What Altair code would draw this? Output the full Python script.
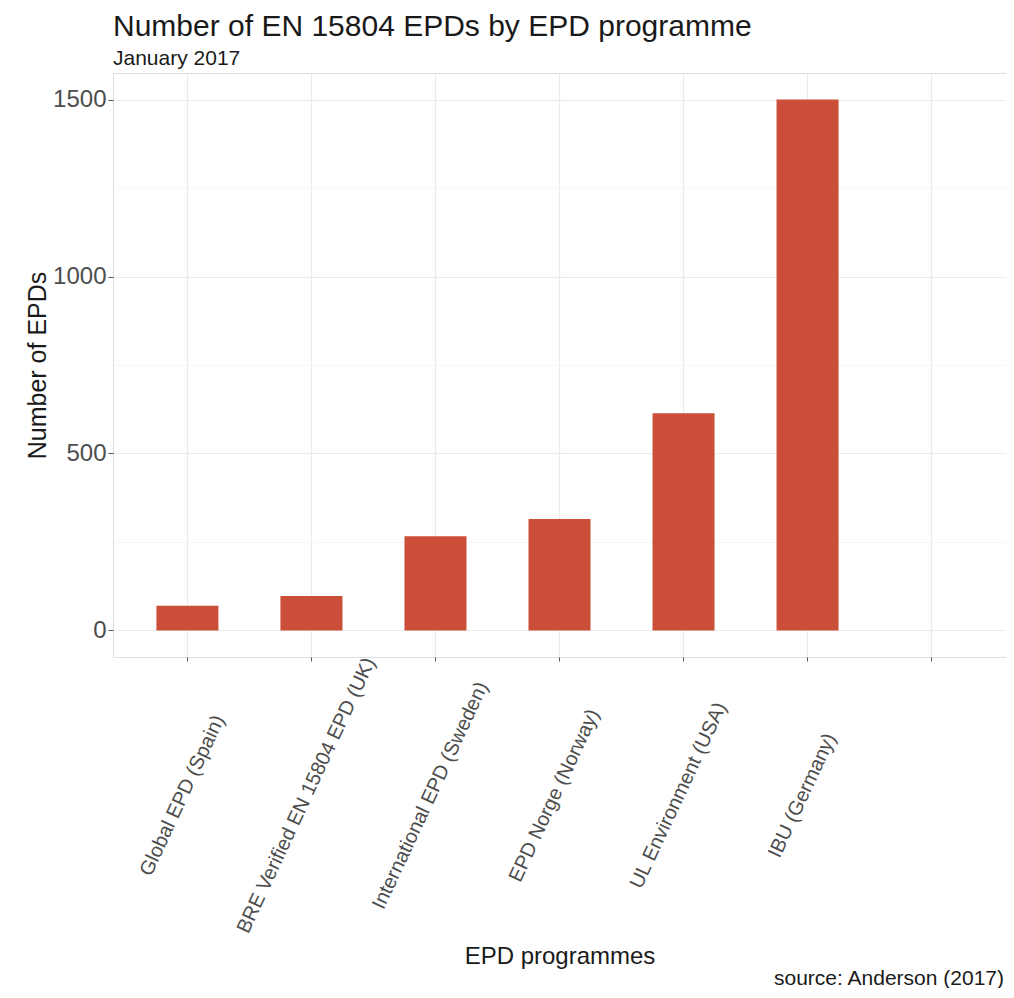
import altair as alt
import pandas as pd

# ---- data ----
programmes = [
    "Global EPD (Spain)",
    "BRE Verified EN 15804 EPD (UK)",
    "International EPD (Sweden)",
    "EPD Norge (Norway)",
    "UL Environment (USA)",
    "IBU (Germany)",
]
counts = [70, 97, 266, 315, 614, 1500]
x_domain = programmes + [""]          # empty trailing slot present in the reference
y_tick_values = [0, 250, 500, 750, 1000, 1250, 1500]

title_text = "Number of EN 15804 EPDs by EPD programme"
subtitle_text = "January 2017"
x_title = "EPD programmes"
y_title = "Number of EPDs"
caption = "source: Anderson (2017)"

FONT = "Liberation Sans"
BAR = "#cb4e38"

df = pd.DataFrame({"programme": programmes, "count": counts})
cap_df = pd.DataFrame({"t": [caption]})

bars = alt.Chart(df).mark_bar(color=BAR).encode(
    x=alt.X(
        "programme:N",
        sort=x_domain,
        scale=alt.Scale(domain=x_domain, paddingInner=0.5, paddingOuter=0.35),
        axis=alt.Axis(
            title=x_title,
            titleFont=FONT,
            titleFontSize=24,
            titleFontWeight="normal",
            titleColor="#1a1a1a",
            titleBaseline="alphabetic",
            titleY=306,
            labelFont=FONT,
            labelFontSize=20,
            labelColor="#4d4d4d",
            labelAngle=-65,
            labelAlign="center",
            labelBaseline="middle",
            labelPadding=134,
            labelOffset=-5,
            labelLimit=500,
            labelOverlap=False,
            bandPosition=0.5,
            domain=False,
            ticks=True,
            tickSize=4,
            tickColor="#555555",
            grid=True,
            gridColor="#ebebeb",
            gridWidth=1.2,
        ),
    ),
    y=alt.Y(
        "count:Q",
        scale=alt.Scale(domain=[-75, 1575], nice=False, zero=False),
        axis=alt.Axis(
            title=y_title,
            titleFont=FONT,
            titleFontSize=25,
            titleFontWeight="normal",
            titleColor="#1a1a1a",
            titleBaseline="alphabetic",
            titleX=-68,
            values=y_tick_values,
            format="d",
            labelExpr="datum.value % 500 === 0 ? datum.label : ''",
            labelFont=FONT,
            labelFontSize=24,
            labelColor="#4d4d4d",
            labelPadding=2,
            domain=False,
            tickSize=5,
            tickColor="#555555",
            tickOpacity={"condition": {"test": "datum.value % 500 === 0", "value": 1}, "value": 0},
            gridColor={"condition": {"test": "datum.value % 500 === 0", "value": "#ebebeb"}, "value": "#f4f4f4"},
            gridWidth={"condition": {"test": "datum.value % 500 === 0", "value": 1.2}, "value": 0.8},
        ),
    ),
    y2=alt.datum(0),
)

cap = alt.Chart(cap_df).mark_text(
    font=FONT, fontSize=21, color="#1a1a1a", align="right", baseline="alphabetic"
).encode(
    text="t:N",
    x=alt.value(891),
    y=alt.value(912),
)

chart = alt.layer(bars, cap).properties(
    width=893,
    height=584,
    title=alt.TitleParams(
        text=title_text,
        subtitle=subtitle_text,
        anchor="start",
        frame="group",
        font=FONT,
        fontSize=30,
        fontWeight="normal",
        color="#1a1a1a",
        subtitleFont=FONT,
        subtitleFontSize=21,
        subtitleColor="#1a1a1a",
        subtitlePadding=6,
        offset=4,
    ),
    autosize=alt.AutoSizeParams(type="none"),
    padding={"left": 105, "top": 65, "right": 0, "bottom": 331},
).configure_view(
    stroke="#c8c8c8", strokeWidth=1.5
).configure(background="white")

chart.save("out.html", embed_options={"renderer": "svg", "actions": False})
